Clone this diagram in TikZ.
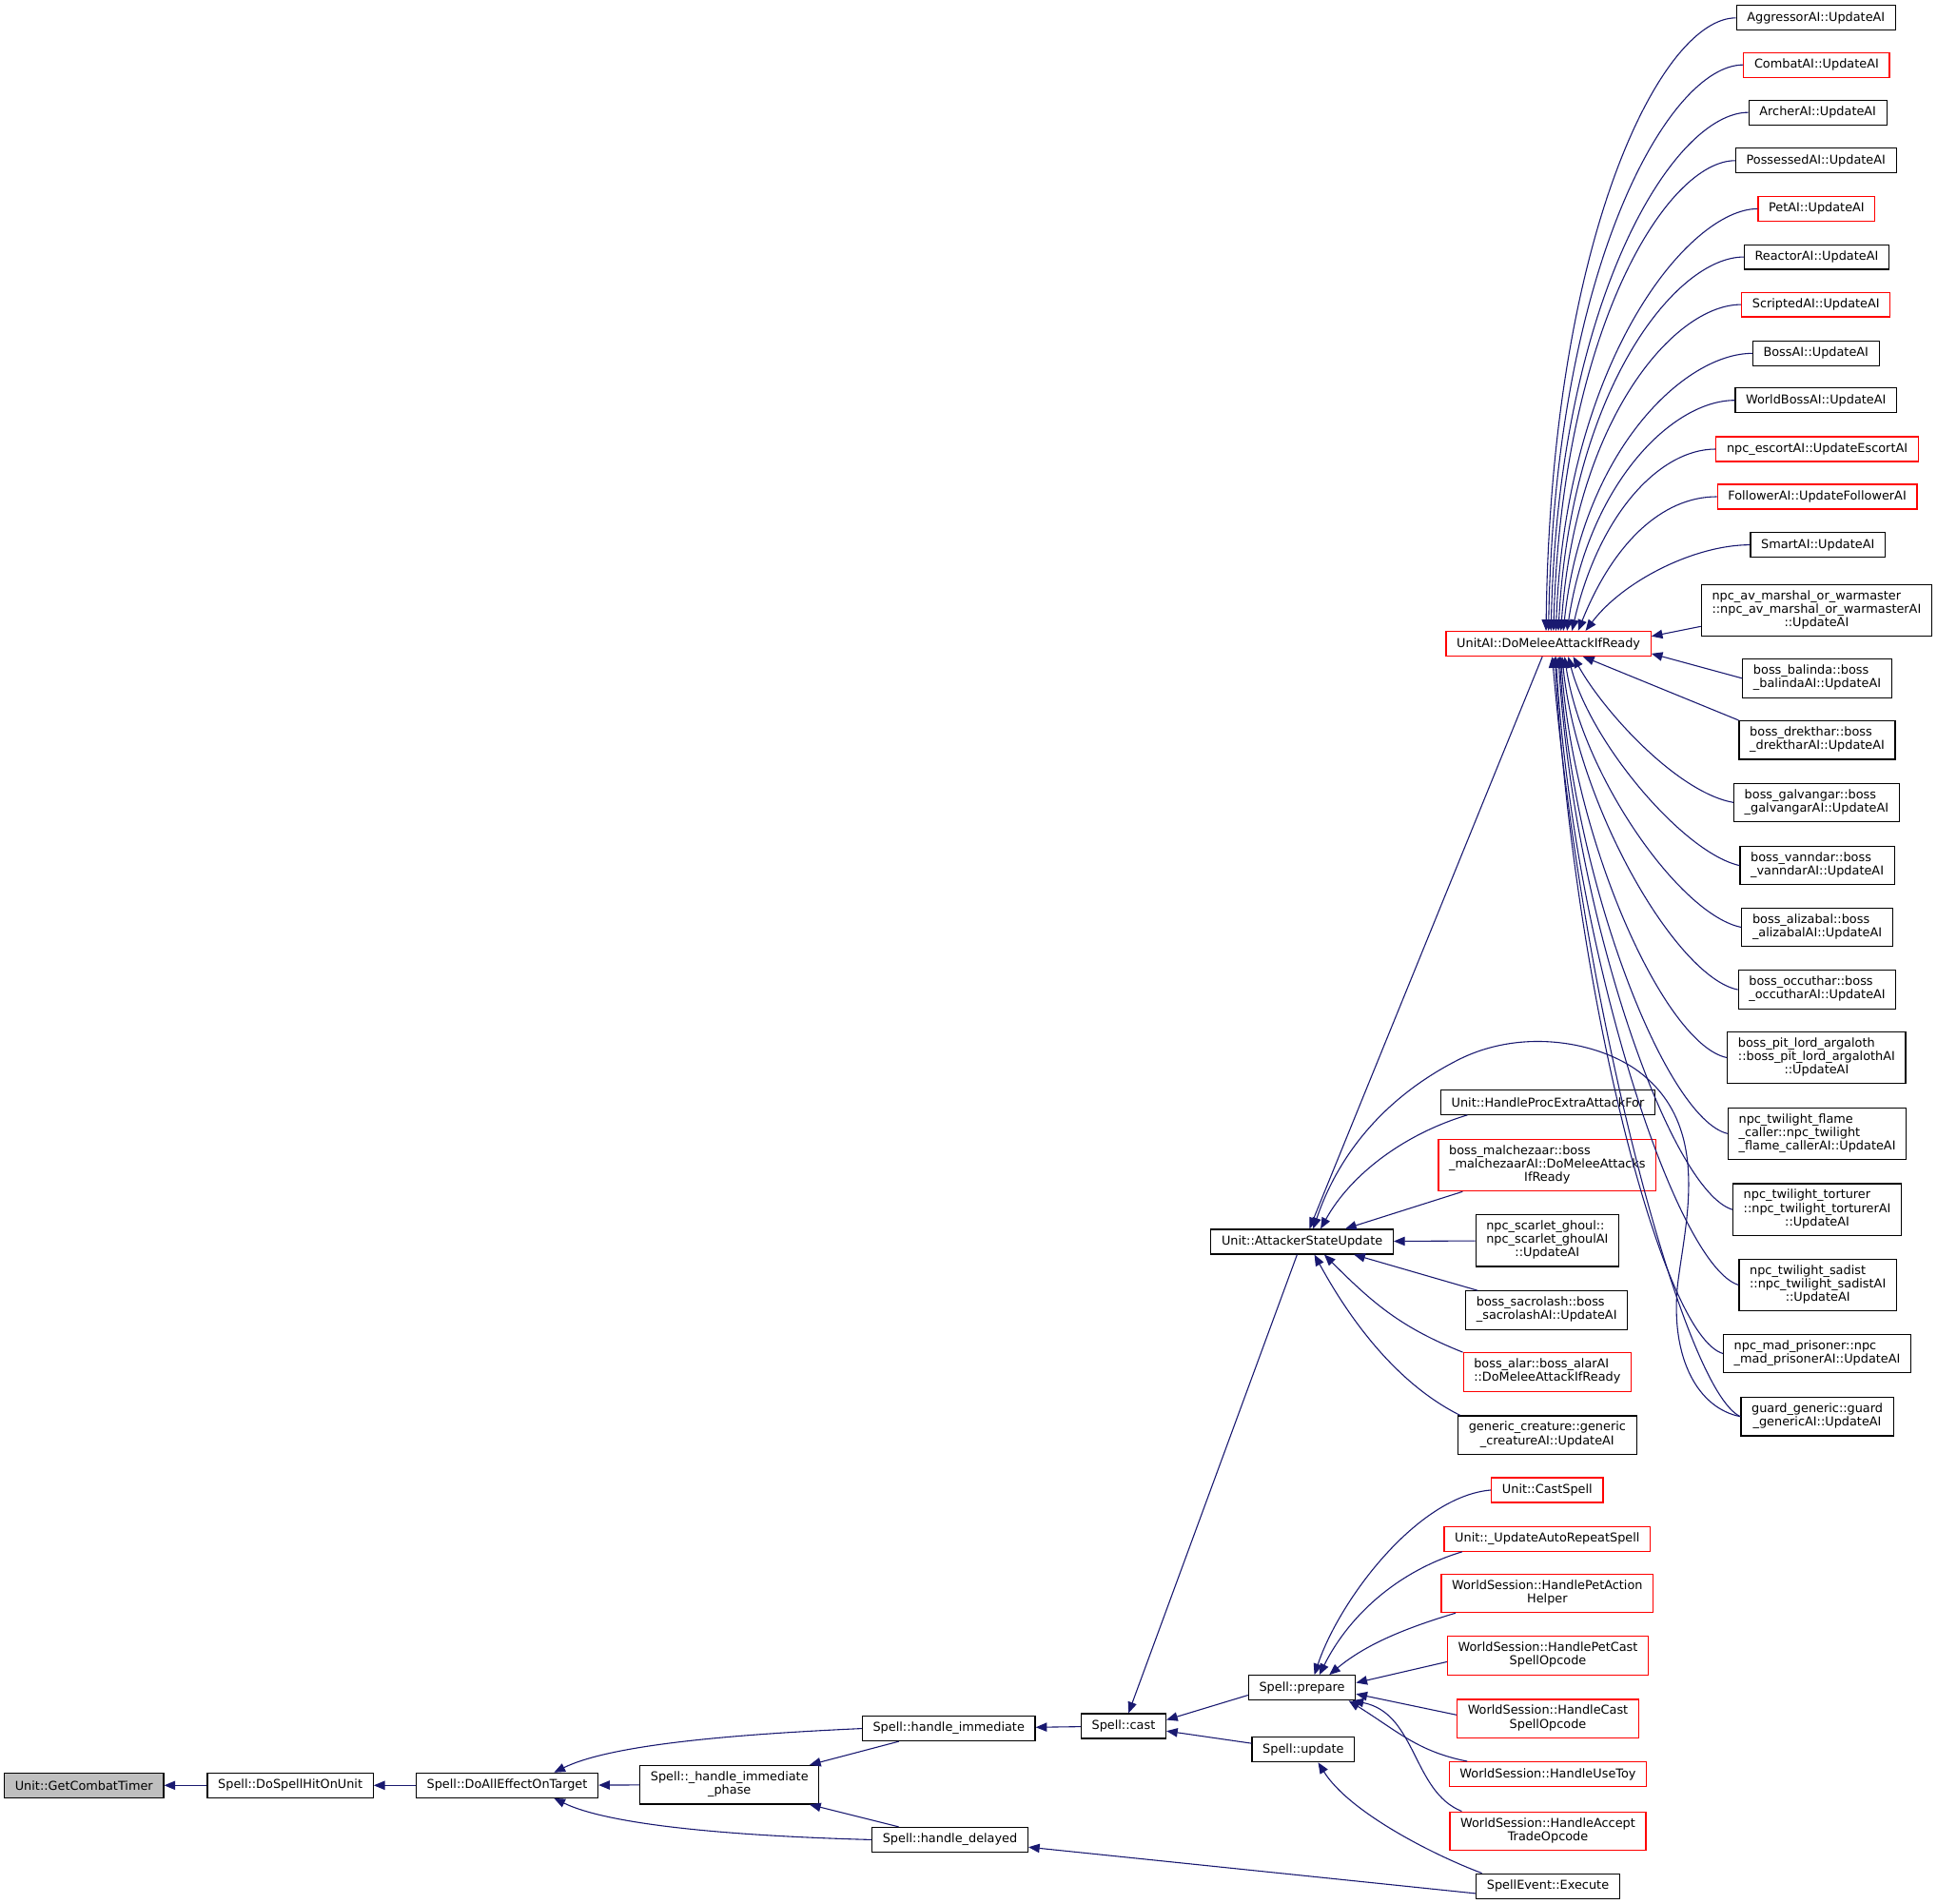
\documentclass[tikz,border=0pt]{standalone}
\usepackage{fontspec}
\setmainfont{DejaVu Sans}
\usetikzlibrary{arrows.meta,calc}
\definecolor{edgeblue}{HTML}{191970}
\definecolor{callred}{HTML}{FF0000}
% last line centred, the others flush left
\newcommand{\ml}[2]{\begin{tabular}{@{}l@{}}#1\\\multicolumn{1}{@{}c@{}}{#2}\end{tabular}}

\begin{document}
\begin{tikzpicture}[x=0.5pt, y=-0.5pt,
    box/.style={draw=black, line width=0.45pt, fill=white, inner xsep=4.3pt, inner ysep=2.4pt,
                minimum height=10pt, font=\fontsize{4.95}{5.4}\selectfont},
    redbox/.style={box, draw=callred},
    arr/.style={-{Triangle[length=4.5pt,width=3.6pt]}, edgeblue, line width=0.42pt}
  ]
  \useasboundingbox (0,0) rectangle (1568,1541);

  % spell chain
  \node[box, fill=gray!50] (timer) at (68,1445) {Unit::GetCombatTimer};
  \node[box] (hitunit) at (235,1445) {Spell::DoSpellHitOnUnit};
  \node[box] (alleffect) at (410.5,1445) {Spell::DoAllEffectOnTarget};
  \node[box] (immphase) at (590.5,1444.5) {\ml{Spell::\_handle\_immediate}{\_phase}};
  \node[box] (handleimm) at (768,1399) {Spell::handle\_immediate};
  \node[box] (handledel) at (769,1489) {Spell::handle\_delayed};
  \node[box] (cast) at (909.5,1397) {Spell::cast};
  \node[box] (prepare) at (1054,1366) {Spell::prepare};
  \node[box] (update) at (1055,1416) {Spell::update};
  \node[box] (execute) at (1253,1526.5) {SpellEvent::Execute};

  % callers of Spell::prepare
  \node[redbox] (castspell) at (1252.5,1206) {Unit::CastSpell};
  \node[redbox] (autorepeat) at (1252.5,1245.5) {Unit::\_UpdateAutoRepeatSpell};
  \node[redbox] (petaction) at (1252.5,1289.5) {\ml{WorldSession::HandlePetAction}{Helper}};
  \node[redbox] (petcast) at (1253,1340) {\ml{WorldSession::HandlePetCast}{SpellOpcode}};
  \node[redbox] (castop) at (1253,1391) {\ml{WorldSession::HandleCast}{SpellOpcode}};
  \node[redbox] (usetoy) at (1253,1436) {WorldSession::HandleUseToy};
  \node[redbox] (accepttrade) at (1253,1482) {\ml{WorldSession::HandleAccept}{TradeOpcode}};

  % callers of Unit::AttackerStateUpdate
  \node[box] (attacker) at (1054,1005) {Unit::AttackerStateUpdate};
  \node[box] (procextra) at (1253,892) {Unit::HandleProcExtraAttackFor};
  \node[redbox] (malchezaar) at (1252.5,943) {\ml{boss\_malchezaar::boss\\\_malchezaarAI::DoMeleeAttacks}{IfReady}};
  \node[box] (scarlet) at (1252.5,1004) {\ml{npc\_scarlet\_ghoul::\\npc\_scarlet\_ghoulAI}{::UpdateAI}};
  \node[box] (sacrolash) at (1252,1060.5) {\ml{boss\_sacrolash::boss}{\_sacrolashAI::UpdateAI}};
  \node[redbox] (alar) at (1252.5,1110.5) {\ml{boss\_alar::boss\_alarAI}{::DoMeleeAttackIfReady}};
  \node[box] (generic) at (1252.5,1161.5) {\ml{generic\_creature::generic}{\_creatureAI::UpdateAI}};

  % callers of UnitAI::DoMeleeAttackIfReady
  \node[redbox] (domelee) at (1253.5,521) {UnitAI::DoMeleeAttackIfReady};
  \node[box] (aggressor) at (1470,14.5) {AggressorAI::UpdateAI};
  \node[redbox] (combat) at (1470.5,52.5) {CombatAI::UpdateAI};
  \node[box] (archer) at (1471.5,91) {ArcherAI::UpdateAI};
  \node[box] (possessed) at (1470,130) {PossessedAI::UpdateAI};
  \node[redbox] (petai) at (1470.5,169) {PetAI::UpdateAI};
  \node[box] (reactor) at (1470.5,208) {ReactorAI::UpdateAI};
  \node[redbox] (scripted) at (1470,246.5) {ScriptedAI::UpdateAI};
  \node[box] (bossai) at (1470,286) {BossAI::UpdateAI};
  \node[box] (worldboss) at (1470,324) {WorldBossAI::UpdateAI};
  \node[redbox] (escort) at (1471,363.5) {npc\_escortAI::UpdateEscortAI};
  \node[redbox] (follower) at (1471,402) {FollowerAI::UpdateFollowerAI};
  \node[box] (smart) at (1471.5,441) {SmartAI::UpdateAI};
  \node[box] (marshal) at (1470.5,494) {\ml{npc\_av\_marshal\_or\_warmaster\\::npc\_av\_marshal\_or\_warmasterAI}{::UpdateAI}};
  \node[box] (balinda) at (1471,549) {\ml{boss\_balinda::boss}{\_balindaAI::UpdateAI}};
  \node[box] (drekthar) at (1471,599) {\ml{boss\_drekthar::boss}{\_drektharAI::UpdateAI}};
  \node[box] (galvangar) at (1470.5,649.5) {\ml{boss\_galvangar::boss}{\_galvangarAI::UpdateAI}};
  \node[box] (vanndar) at (1471,700.5) {\ml{boss\_vanndar::boss}{\_vanndarAI::UpdateAI}};
  \node[box] (alizabal) at (1471,750.5) {\ml{boss\_alizabal::boss}{\_alizabalAI::UpdateAI}};
  \node[box] (occuthar) at (1471,801) {\ml{boss\_occuthar::boss}{\_occutharAI::UpdateAI}};
  \node[box] (argaloth) at (1470.5,856) {\ml{boss\_pit\_lord\_argaloth\\::boss\_pit\_lord\_argalothAI}{::UpdateAI}};
  \node[box] (flamecaller) at (1471,917.5) {\ml{npc\_twilight\_flame\\\_caller::npc\_twilight}{\_flame\_callerAI::UpdateAI}};
  \node[box] (torturer) at (1471,979) {\ml{npc\_twilight\_torturer\\::npc\_twilight\_torturerAI}{::UpdateAI}};
  \node[box] (sadist) at (1471.5,1040) {\ml{npc\_twilight\_sadist\\::npc\_twilight\_sadistAI}{::UpdateAI}};
  \node[box] (madprisoner) at (1471,1095.5) {\ml{npc\_mad\_prisoner::npc}{\_mad\_prisonerAI::UpdateAI}};
  \node[box] (guard) at (1471,1146.5) {\ml{guard\_generic::guard}{\_genericAI::UpdateAI}};

  % spell chain edges
  \draw[arr] (hitunit) -- (timer);
  \draw[arr] (alleffect) -- (hitunit);
  \draw[arr] (immphase) -- (alleffect);
  \draw[arr] (handleimm.west) .. controls +(-110,5) and +(45,-22) .. ($(alleffect.north)+(38,0)$);
  \draw[arr] (handledel.west) .. controls +(-110,-3) and +(45,22) .. ($(alleffect.south)+(38,0)$);
  \draw[arr] ($(handleimm.south west)+(30,0)$) -- ($(immphase.north east)+(-8,0)$);
  \draw[arr] ($(handledel.north west)+(22,0)$) -- ($(immphase.south east)+(-8,0)$);
  \draw[arr] (cast) -- (handleimm);
  \draw[arr] ($(execute.west)+(0,6)$) -- ($(handledel.east)+(0,6)$);
  \draw[arr] ($(prepare.west)+(0,6)$) -- ($(cast.east)+(0,-5)$);
  \draw[arr] ($(update.west)+(0,-5)$) -- ($(cast.east)+(0,4)$);
  \draw[arr] ($(attacker.south)+(-4,0)$) -- ($(cast.north)+(4,0)$);
  \draw[arr] ($(execute.north west)+(5,0)$) .. controls +(-40,-15) and +(25,40) .. ($(update.south)+(12,0)$);

  % into Spell::prepare
  \draw[arr] (castspell.west) .. controls +(-60,5) and +(20,-60) .. ($(prepare.north)+(10,0)$);
  \draw[arr] ($(autorepeat.south west)+(15,0)$) .. controls +(-50,15) and +(25,-50) .. ($(prepare.north)+(14,0)$);
  \draw[arr] ($(petaction.south west)+(12,0)$) .. controls +(-40,12) and +(30,-25) .. ($(prepare.north)+(22,0)$);
  \draw[arr] ($(petcast.west)+(0,5)$) -- ($(prepare.east)+(0,-4)$);
  \draw[arr] ($(castop.west)+(0,-3)$) -- ($(prepare.east)+(0,5)$);
  \draw[arr] ($(usetoy.north west)+(15,0)$) .. controls +(-40,-8) and +(40,25) .. ($(prepare.south east)+(-6,0)$);
  \draw[arr] ($(accepttrade.north west)+(10,0)$) .. controls +(-40,-16) and +(52,10) .. ($(prepare.south east)+(-3,0)$);

  % into Unit::AttackerStateUpdate
  \draw[arr] ($(domelee.south)+(-5,0)$) -- ($(attacker.north)+(6,0)$);
  \draw[arr] (guard.west) .. controls (1375,1140) and (1352,1100) .. (1358,1040)
    .. controls (1364,990) and (1385,915) .. (1330,870)
    .. controls (1300,845) and (1235,830) .. (1180,858)
    .. controls (1125,886) and (1085,930) .. ($(attacker.north)+(9,0)$);
  \draw[arr] ($(procextra.south west)+(22,0)$) .. controls +(-50,15) and +(25,-45) .. ($(attacker.north)+(15,0)$);
  \draw[arr] ($(malchezaar.south west)+(20,0)$) -- ($(attacker.north)+(35,0)$);
  \draw[arr] (scarlet) -- (attacker);
  \draw[arr] ($(sacrolash.north west)+(10,0)$) -- ($(attacker.south)+(42,0)$);
  \draw[arr] (alar.north west) .. controls +(-50,-20) and +(40,40) .. ($(attacker.south)+(18,0)$);
  \draw[arr] ($(generic.north west)+(2,0)$) .. controls +(-50,-25) and +(30,55) .. ($(attacker.south)+(10,0)$);

  % into UnitAI::DoMeleeAttackIfReady, from above
  \draw[arr] (aggressor.west) .. controls +(-60,0) and +(4,-320) .. ($(domelee.north)+(-2,0)$);
  \draw[arr] (combat.west) .. controls +(-60,0) and +(5,-295) .. ($(domelee.north)+(0,0)$);
  \draw[arr] (archer.west) .. controls +(-60,0) and +(6,-270) .. ($(domelee.north)+(2,0)$);
  \draw[arr] (possessed.west) .. controls +(-55,0) and +(7,-245) .. ($(domelee.north)+(4,0)$);
  \draw[arr] (petai.west) .. controls +(-55,0) and +(8,-220) .. ($(domelee.north)+(6,0)$);
  \draw[arr] (reactor.west) .. controls +(-55,0) and +(10,-195) .. ($(domelee.north)+(8,0)$);
  \draw[arr] (scripted.west) .. controls +(-55,0) and +(12,-170) .. ($(domelee.north)+(10,0)$);
  \draw[arr] (bossai.west) .. controls +(-55,0) and +(15,-145) .. ($(domelee.north)+(12,0)$);
  \draw[arr] (worldboss.west) .. controls +(-50,0) and +(18,-120) .. ($(domelee.north)+(15,0)$);
  \draw[arr] (escort.west) .. controls +(-45,0) and +(22,-95) .. ($(domelee.north)+(19,0)$);
  \draw[arr] (follower.west) .. controls +(-45,0) and +(28,-70) .. ($(domelee.north)+(24,0)$);
  \draw[arr] (smart.west) .. controls +(-45,0) and +(30,-40) .. ($(domelee.north)+(30,0)$);
  \draw[arr] ($(marshal.west)+(0,13)$) -- ($(domelee.east)+(0,-6)$);
  \draw[arr] (balinda.west) -- ($(domelee.east)+(0,8)$);

  % into UnitAI::DoMeleeAttackIfReady, from below
  \draw[arr] (drekthar.north west) -- ($(domelee.south)+(28,0)$);
  \draw[arr] (galvangar.west) .. controls +(-45,-8) and +(25,45) .. ($(domelee.south)+(20,0)$);
  \draw[arr] (vanndar.west) .. controls +(-45,-10) and +(18,70) .. ($(domelee.south)+(16,0)$);
  \draw[arr] (alizabal.west) .. controls +(-50,-10) and +(14,95) .. ($(domelee.south)+(13,0)$);
  \draw[arr] (occuthar.west) .. controls +(-50,-10) and +(12,120) .. ($(domelee.south)+(11,0)$);
  \draw[arr] (argaloth.west) .. controls +(-50,-10) and +(10,150) .. ($(domelee.south)+(10,0)$);
  \draw[arr] (flamecaller.west) .. controls +(-50,-12) and +(10,180) .. ($(domelee.south)+(9,0)$);
  \draw[arr] (torturer.west) .. controls +(-50,-15) and +(12,210) .. ($(domelee.south)+(8,0)$);
  \draw[arr] (sadist.west) .. controls +(-50,-15) and +(14,240) .. ($(domelee.south)+(6,0)$);
  \draw[arr] (madprisoner.west) .. controls +(-50,-15) and +(16,270) .. ($(domelee.south)+(5,0)$);
  \draw[arr] (guard.west) .. controls +(-45,-20) and +(25,290) .. ($(domelee.south)+(3,0)$);
\end{tikzpicture}
\end{document}
